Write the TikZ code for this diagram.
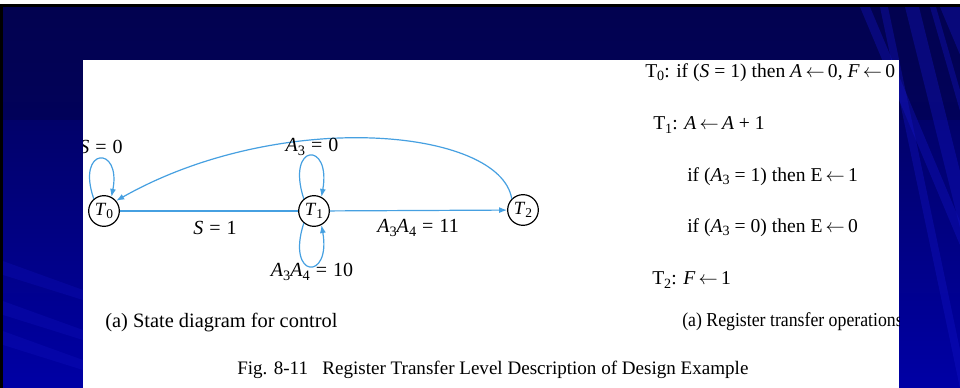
\documentclass[tikz,border=0pt]{standalone}
\usepackage{fontspec}
\setmainfont{Liberation Serif}
\usetikzlibrary{arrows.meta}
\definecolor{navy}{RGB}{2,2,80}
\definecolor{deepblue}{RGB}{0,0,165}
\definecolor{streak}{RGB}{20,20,200}
\definecolor{edgeblue}{RGB}{70,160,225}
\newcommand{\lowsub}[1]{\raisebox{-0.35ex}{\scalebox{0.72}{#1}}}
\newcommand{\getsarrow}{\,$\leftarrow$\,}
\newcommand{\eqs}{\hspace{0.3em}=\hspace{0.3em}}
\begin{document}
\begin{tikzpicture}[x=0.75pt,y=-0.75pt,
  state/.style={circle,draw=black,line width=0.9pt,minimum size=23pt,inner sep=0pt,fill=white,font=\fontsize{14}{15}\selectfont},
  edge/.style={draw=edgeblue,line width=0.9pt},
  tip/.style={-{Latex[length=6pt,width=4.5pt]}},
  lbl/.style={font=\fontsize{15}{17}\selectfont,inner sep=0pt},
  rtext/.style={font=\fontsize{14.7}{16}\selectfont,inner sep=0pt,anchor=west}]
\useasboundingbox (0,0) rectangle (960,388);
% background
\fill[white] (0,0) rectangle (960,388);
\shade[top color=navy,bottom color=deepblue] (0,7) rectangle (960,388);
\fill[navy,opacity=0.6] (0,7) rectangle (960,120);
\foreach \a/\b/\w in {880/960/8,905/1000/14,930/1040/6,940/1100/20,860/1020/10}{
  \fill[streak,opacity=0.35] (\a,7) -- (\a+\w,7) -- (\b+\w,388) -- (\b,388) -- cycle;}
\foreach \yy in {260,300,330}{
  \fill[streak,opacity=0.25] (0,\yy) -- (83,\yy+30) -- (83,\yy+40) -- (0,\yy+14) -- cycle;}
\fill[black] (0,4) rectangle (960,7);
\fill[black] (0,4) rectangle (3,388);
% white panel
\fill[white] (83,60) rectangle (899,388);
\begin{scope}
\clip (83,60) rectangle (899,388);
% states
\node[state] (T0) at (104,211) {\textit{T}\lowsub{0}};
\node[state] (T1) at (314,211) {\textit{T}\lowsub{1}};
\node[state] (T2) at (523,210) {\textit{T}\lowsub{2}};
% edges
\draw[edge] (T0) -- (T1);
\draw[edge,tip] (T1) -- (T2);
\draw[edge,tip] (T2.135) .. controls (500,128) and (280,108) .. (T0.40);
\draw[edge,tip] (T0.130) .. controls +(-18,-52) and +(10,-52) .. (T0.62);
\draw[edge,tip] (T1.130) .. controls +(-18,-56) and +(10,-56) .. (T1.62);
\draw[edge,tip] (T1.230) .. controls +(-18,56) and +(10,56) .. (T1.298);
% edge labels
\node[lbl] (l0) at (101,147) {\textit{S}\eqs0};
\node[lbl] (l1) at (312,147) {\textit{A}\lowsub{3}\eqs0};
\node[lbl] (l2) at (215,228) {\textit{S}\eqs1};
\node[lbl] (l3) at (418,228) {\textit{A}\lowsub{3}\textit{A}\lowsub{4}\eqs11};
\node[lbl] (l4) at (312,272) {\textit{A}\lowsub{3}\textit{A}\lowsub{4}\eqs10};
% register transfer operations
\node[rtext] (r0) at (645,73) {T\lowsub{0}: if (\textit{S} = 1) then \textit{A}\getsarrow0, \textit{F}\getsarrow0};
\node[rtext] (r1) at (653,125) {T\lowsub{1}: \textit{A}\getsarrow\textit{A} + 1};
\node[rtext] (r2) at (687,177) {if (\textit{A}\lowsub{3} = 1) then E\getsarrow1};
\node[rtext] (r3) at (687,228) {if (\textit{A}\lowsub{3} = 0) then E\getsarrow0};
\node[rtext] (r4) at (652,280) {T\lowsub{2}: \textit{F}\getsarrow1};
\node[rtext,font=\fontsize{14.8}{16}\selectfont] (c2) at (682,322) {\scalebox{0.9}[1]{(a) Register transfer operations}};
\node[rtext,font=\fontsize{15.3}{17}\selectfont] (c1) at (105,323) {(a) State diagram for control};
\node[rtext,font=\fontsize{14.3}{17}\selectfont] (cap) at (237,370) {Fig. 8-11\hspace{0.5em} Register Transfer Level Description of Design Example};
\end{scope}
\end{tikzpicture}
\end{document}
